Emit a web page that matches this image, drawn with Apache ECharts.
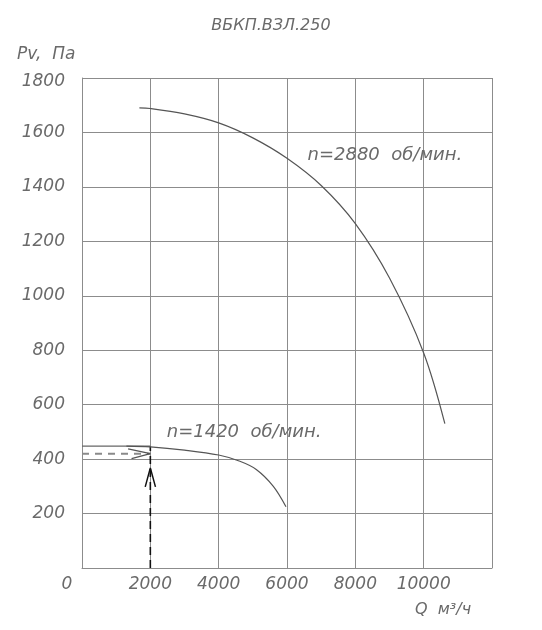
<!DOCTYPE html>
<html>
<head>
<meta charset="utf-8">
<script src="https://cdn.jsdelivr.net/npm/echarts@6/dist/echarts.min.js"></script>
<style>
  html, body { margin: 0; padding: 0; background: #fff; }
  #chart { width: 542px; height: 630px; }
</style>
</head>
<body>
<div id="chart"></div>
<script>
// Q, м3/ч and Pv, Па
const curve2880 = [
    [1680, 1690], [2000, 1688], [3000, 1668], [4000, 1635], [5000, 1580],
    [6000, 1505], [7000, 1405], [8000, 1265], [9000, 1065], [10000, 790],
    [10620, 530]
];
const curve1420 = [
    [1300, 448], [2000, 445], [3000, 433], [4000, 415], [4600, 393],
    [5100, 362], [5600, 300], [5970, 225]
];
// working point helper lines
const pressureLine = [[0, 448], [2000, 448]];
const readLine = [[0, 420], [2000, 420]];
const readArrow = [[1350, 438], [2000, 420], [1450, 402]];
const flowLine = [[2000, 0], [2000, 446]];
const flowArrow = [[1850, 298], [2000, 368], [2150, 298]];

const xTicks = [0, 2000, 4000, 6000, 8000, 10000];
const yTicks = [200, 400, 600, 800, 1000, 1200, 1400, 1600, 1800];
const label2880 = 'n=2880  об/мин.';
const label1420 = 'n=1420  об/мин.';

const chart = echarts.init(document.getElementById('chart'));

const font = {
    fontFamily: 'DejaVu Sans',
    fontStyle: 'italic',
    color: '#6a6a6a',
    fontSize: 17
};

const helper = (data, color, width, type) => ({
    type: 'line',
    data: data,
    symbol: 'none',
    silent: true,
    lineStyle: { color: color, width: width, type: type },
    z: 3
});

chart.setOption({
    backgroundColor: '#ffffff',
    animation: false,
    title: [
        { text: 'ВБКП.ВЗЛ.250', left: 'center', top: 13, textStyle: Object.assign({}, font, { fontWeight: 'normal', fontSize: 16 }) },
        { text: 'Pv,  Па', left: 12, top: 41, textStyle: Object.assign({}, font, { fontWeight: 'normal' }) },
        { text: 'Q  м³/ч', left: 410, top: 597, textStyle: Object.assign({}, font, { fontWeight: 'normal', fontSize: 16 }) }
    ],
    grid: { left: 82, right: 50, top: 78, bottom: 62 },
    xAxis: {
        type: 'value',
        min: 0,
        max: 12000,
        interval: 2000,
        axisLine: { show: true, lineStyle: { color: '#8c8c8c', width: 1 } },
        axisTick: { show: false },
        splitLine: { show: true, lineStyle: { color: '#8c8c8c', width: 1 } },
        axisLabel: Object.assign({}, font, {
            margin: 8,
            formatter: v => {
                if (v === 0) return '{z|0}';
                return xTicks.indexOf(v) >= 0 ? String(v) : '';
            },
            rich: { z: Object.assign({}, font, { padding: [0, 30, 0, 0] }) }
        })
    },
    yAxis: {
        type: 'value',
        min: 0,
        max: 1800,
        interval: 200,
        axisLine: { show: true, lineStyle: { color: '#8c8c8c', width: 1 } },
        axisTick: { show: false },
        splitLine: { show: true, lineStyle: { color: '#8c8c8c', width: 1 } },
        axisLabel: Object.assign({}, font, {
            margin: 17,
            formatter: v => {
                if (v === 1800) return '{t|1800}';
                return yTicks.indexOf(v) >= 0 ? String(v) : '';
            },
            rich: { t: Object.assign({}, font, { padding: [8, 0, 0, 0] }) }
        })
    },
    series: [
        {
            type: 'line',
            data: curve2880,
            smooth: 0.35,
            symbol: 'none',
            lineStyle: { color: '#555', width: 1.2 },
            markPoint: {
                symbol: 'circle',
                symbolSize: 0,
                data: [{ coord: [6600, 1517] }],
                label: Object.assign({}, font, { show: true, position: 'right', distance: 0, fontSize: 18, formatter: label2880 })
            },
            z: 4
        },
        {
            type: 'line',
            data: curve1420,
            smooth: 0.35,
            symbol: 'none',
            lineStyle: { color: '#555', width: 1.2 },
            markPoint: {
                symbol: 'circle',
                symbolSize: 0,
                data: [{ coord: [2480, 500] }],
                label: Object.assign({}, font, { show: true, position: 'right', distance: 0, fontSize: 18, formatter: label1420 })
            },
            z: 4
        },
        helper(pressureLine, '#666', 1.2, 'solid'),
        helper(readLine, '#8a8a8a', 2, [7, 6]),
        helper(readArrow, '#555', 1.3, 'solid'),
        helper(flowLine, '#111', 1.6, [8, 5]),
        helper(flowArrow, '#111', 1.5, 'solid')
    ]
});
</script>
</body>
</html>
